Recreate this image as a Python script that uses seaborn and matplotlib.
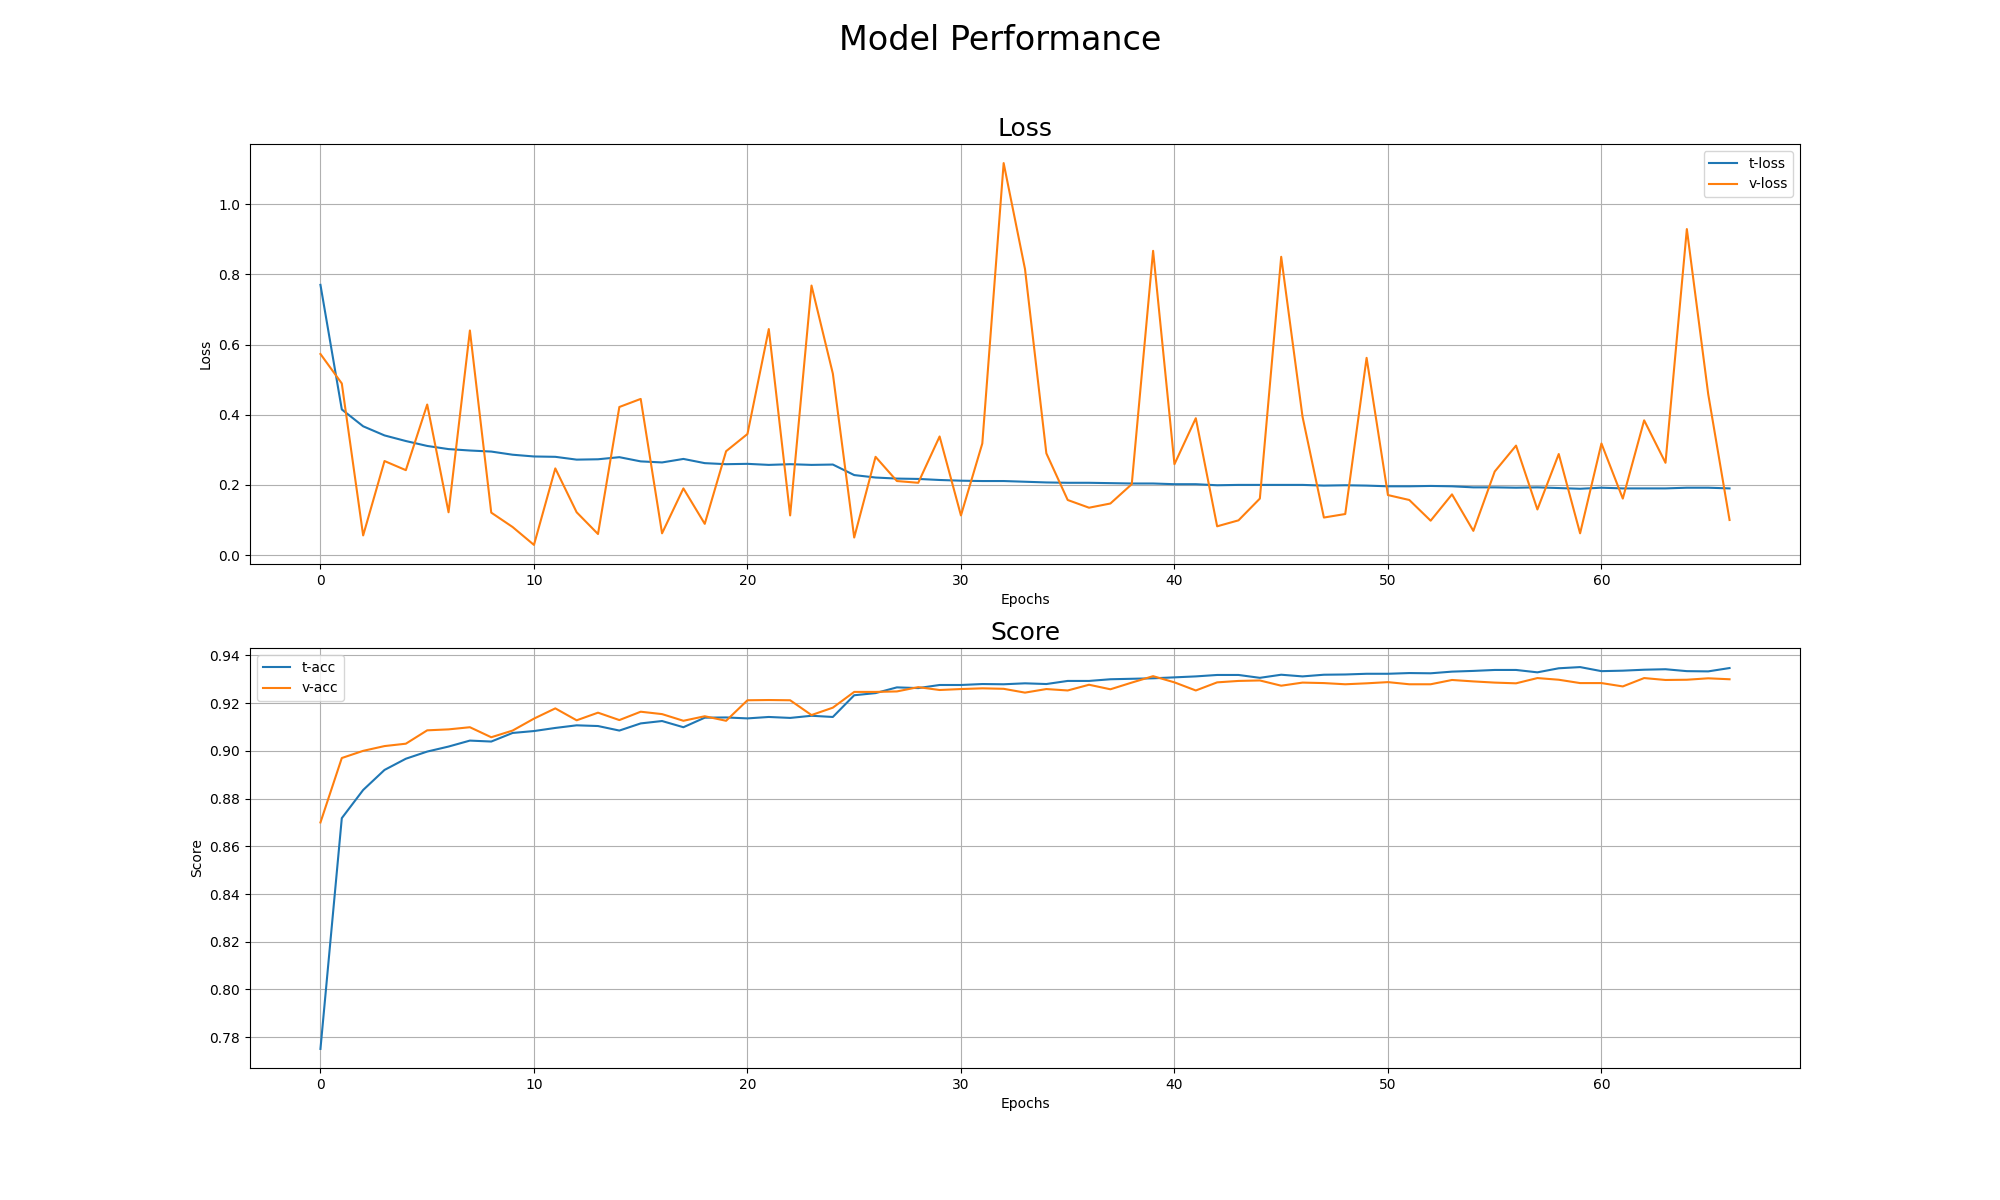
import numpy as np
import pandas as pd
import matplotlib
matplotlib.use("Agg")
import matplotlib.pyplot as plt
import seaborn as sns

# 학습 기록
epochs = list(range(67))

t_loss = [0.770, 0.415, 0.367, 0.341, 0.325, 0.311, 0.302, 0.298, 0.295, 0.286,
          0.281, 0.280, 0.272, 0.273, 0.279, 0.267, 0.264, 0.274, 0.262, 0.259,
          0.260, 0.257, 0.259, 0.257, 0.258, 0.228, 0.221, 0.218, 0.217, 0.214,
          0.212, 0.211, 0.211, 0.209, 0.207, 0.206, 0.206, 0.205, 0.204, 0.204,
          0.202, 0.202, 0.199, 0.200, 0.200, 0.200, 0.200, 0.198, 0.199, 0.198,
          0.196, 0.196, 0.197, 0.196, 0.193, 0.193, 0.192, 0.193, 0.191, 0.189,
          0.192, 0.190, 0.190, 0.190, 0.192, 0.192, 0.190]

v_loss = [0.573, 0.489, 0.056, 0.268, 0.242, 0.429, 0.122, 0.640, 0.121, 0.080,
          0.029, 0.247, 0.122, 0.060, 0.422, 0.445, 0.062, 0.190, 0.089, 0.296,
          0.345, 0.644, 0.113, 0.768, 0.517, 0.050, 0.280, 0.211, 0.206, 0.338,
          0.113, 0.318, 1.117, 0.815, 0.290, 0.157, 0.135, 0.147, 0.202, 0.867,
          0.259, 0.390, 0.082, 0.099, 0.161, 0.850, 0.394, 0.107, 0.117, 0.562,
          0.171, 0.157, 0.098, 0.173, 0.069, 0.238, 0.312, 0.130, 0.288, 0.062,
          0.318, 0.161, 0.384, 0.263, 0.929, 0.459, 0.100]

t_acc = [0.7751, 0.8718, 0.8836, 0.8920, 0.8967, 0.8997, 0.9018, 0.9043, 0.9039, 0.9075,
         0.9083, 0.9096, 0.9107, 0.9104, 0.9085, 0.9115, 0.9125, 0.9099, 0.9139, 0.9140,
         0.9136, 0.9142, 0.9138, 0.9147, 0.9142, 0.9233, 0.9242, 0.9266, 0.9263, 0.9276,
         0.9276, 0.9280, 0.9279, 0.9283, 0.9280, 0.9293, 0.9293, 0.9300, 0.9302, 0.9304,
         0.9308, 0.9312, 0.9318, 0.9318, 0.9306, 0.9319, 0.9312, 0.9319, 0.9320, 0.9323,
         0.9323, 0.9326, 0.9325, 0.9332, 0.9335, 0.9339, 0.9339, 0.9329, 0.9346, 0.9351,
         0.9334, 0.9336, 0.9340, 0.9342, 0.9334, 0.9333, 0.9347]

v_acc = [0.8700, 0.8970, 0.9000, 0.9020, 0.9030, 0.9086, 0.9090, 0.9099, 0.9057, 0.9085,
         0.9135, 0.9178, 0.9128, 0.9160, 0.9129, 0.9164, 0.9154, 0.9126, 0.9145, 0.9126,
         0.9212, 0.9213, 0.9212, 0.9150, 0.9181, 0.9247, 0.9247, 0.9249, 0.9267, 0.9255,
         0.9259, 0.9262, 0.9260, 0.9244, 0.9259, 0.9253, 0.9277, 0.9258, 0.9286, 0.9313,
         0.9287, 0.9253, 0.9287, 0.9293, 0.9295, 0.9273, 0.9286, 0.9284, 0.9279, 0.9283,
         0.9288, 0.9279, 0.9279, 0.9297, 0.9291, 0.9286, 0.9283, 0.9305, 0.9298, 0.9284,
         0.9284, 0.9270, 0.9305, 0.9297, 0.9298, 0.9304, 0.9300]

fig, axes = plt.subplots(2, 1, figsize=(20, 12), dpi=100)
fig.suptitle('Model Performance', fontsize=24)

# Loss
ax = axes[0]
sns.lineplot(x=epochs, y=t_loss, label='t-loss', ax=ax, color='C0')
sns.lineplot(x=epochs, y=v_loss, label='v-loss', ax=ax, color='C1')
ax.set_title('Loss', fontsize=18)
ax.set_xlabel('Epochs')
ax.set_ylabel('Loss')
ax.grid(True)
ax.legend(loc='upper right')

# Score
ax = axes[1]
sns.lineplot(x=epochs, y=t_acc, label='t-acc', ax=ax, color='C0')
sns.lineplot(x=epochs, y=v_acc, label='v-acc', ax=ax, color='C1')
ax.set_title('Score', fontsize=18)
ax.set_xlabel('Epochs')
ax.set_ylabel('Score')
ax.grid(True)
ax.legend(loc='upper left')

plt.savefig('out.png')
